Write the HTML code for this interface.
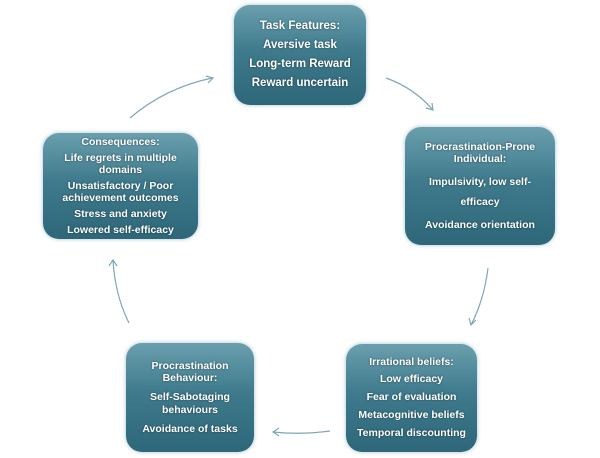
<!DOCTYPE html>
<html><head><style>
body{margin:0;width:600px;height:458px;background:#fff;position:relative;overflow:hidden;font-family:"Liberation Sans",sans-serif;}
.b{position:absolute;box-sizing:border-box;border-radius:16px;background:linear-gradient(#6a9fae 0%,#3f7b8d 45%,#2d6779 100%);box-shadow:0 0 4px rgba(100,150,170,.6);color:#fff;font-weight:bold;text-align:center;display:flex;flex-direction:column;justify-content:center;font-size:10.5px;text-shadow:0 0 2px rgba(0,0,0,.5);}
.b p{margin:2px 0;line-height:1.15;}
</style></head><body>
<svg width="600" height="458" style="position:absolute;left:0;top:0">
<g fill="none" stroke="#7fa7b5" stroke-width="1.2">
<path d="M130 118 Q165 88 212 78"/><path d="M206 76 L213 78 L208 83"/>
<path d="M386 78 Q414 88 433 110"/><path d="M426 108 L433 110 L432 103"/>
<path d="M488 268 Q484 300 471 325"/><path d="M469 318 L471 325 L476 320"/>
<path d="M330 431 Q300 435 273 432"/><path d="M279 428 L273 432 L279 436"/>
<path d="M129 323 Q115 295 113 260"/><path d="M109 266 L113 260 L117 266"/>
</g></svg>
<div class="b" style="left:234px;top:5px;width:132px;height:100px;font-size:11.5px"><p style="margin:3px 0">Task Features:</p><p style="margin:3px 0">Aversive task</p><p style="margin:3px 0">Long-term Reward</p><p style="margin:3px 0">Reward uncertain</p></div>
<div class="b" style="left:405px;top:127px;width:150px;height:118px"><p>Procrastination-Prone<br>Individual:</p><p style="margin:6px 0 4px;line-height:1.9">Impulsivity, low self-<br>efficacy</p><p>Avoidance orientation</p></div>
<div class="b" style="left:346px;top:344px;width:131px;height:108px"><p>Irrational beliefs:</p><p style="margin:3px 0">Low efficacy</p><p style="margin:3px 0">Fear of evaluation</p><p style="margin:3px 0">Metacognitive beliefs</p><p style="margin:3px 0">Temporal discounting</p></div>
<div class="b" style="left:126px;top:343px;width:128px;height:109px"><p>Procrastination<br>Behaviour:</p><p style="margin:5px 0">Self-Sabotaging<br>behaviours</p><p>Avoidance of tasks</p></div>
<div class="b" style="left:43px;top:133px;width:155px;height:106px"><p>Consequences:</p><p>Life regrets in multiple<br>domains</p><p>Unsatisfactory / Poor<br>achievement outcomes</p><p>Stress and anxiety</p><p>Lowered self-efficacy</p></div>
</body></html>
